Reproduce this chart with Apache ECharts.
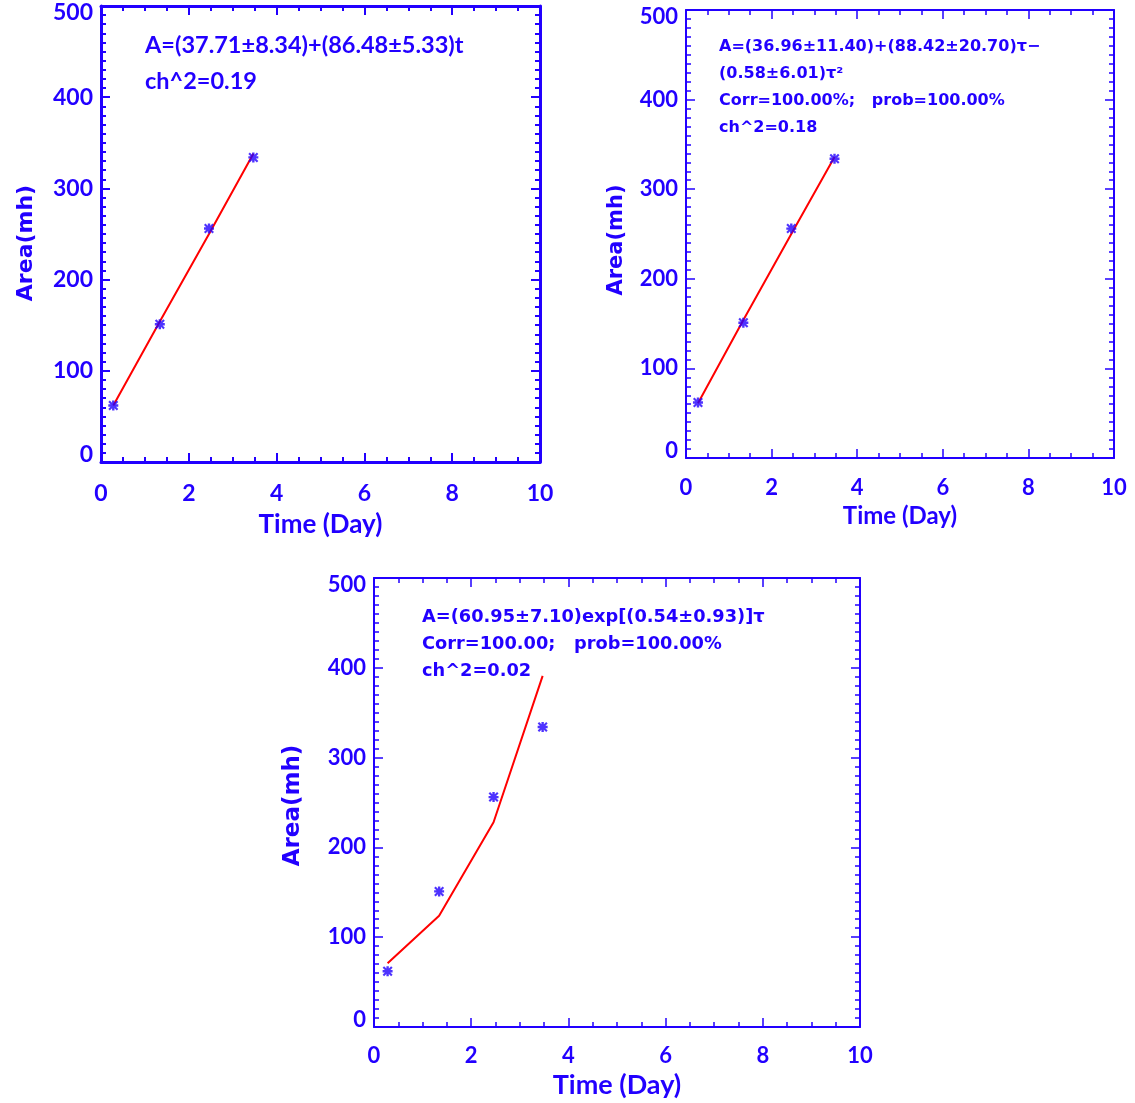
<!DOCTYPE html>
<html>
<head>
<meta charset="utf-8">
<script src="https://cdn.jsdelivr.net/npm/echarts@6/dist/echarts.min.js"></script>
<style>
html,body{margin:0;padding:0;background:#fff;}
#chart{width:1135px;height:1103px;}
</style>
</head>
<body>
<div id="chart"></div>
<script>
// ---- data ----
const timeDay = [0.28, 1.34, 2.46, 3.47];
const areaObs = [62, 151, 256, 334];
const fitLinear = [62, 154, 250, 338];
const fitQuad = [61, 154, 250, 336];
const fitExp = [71, 124, 228, 391];
const xRange = [0, 10];
const yRange = [0, 500];
const xTitle = 'Time (Day)';
const yTitle = 'Area(mh)';
const notes1 = ['A=(37.71±8.34)+(86.48±5.33)t', 'ch^2=0.19'];
const notes2 = ['A=(36.96±11.40)+(88.42±20.70)τ−', '(0.58±6.01)τ²', 'Corr=100.00%;   prob=100.00%', 'ch^2=0.18'];
const notes3 = ['A=(60.95±7.10)exp[(0.54±0.93)]τ', 'Corr=100.00;   prob=100.00%', 'ch^2=0.02'];

const BLUE = '#2200ff';
const RED = '#ff0000';
const FONT = 'Lato';
const FONT2 = 'DejaVu Sans';

const panels = [
  {grid:{left:101, top:6, width:439, height:456}, lw:3, tw:2, fs:23, margin:20,
   xfs:26, xGap:50, yfs:22, yGap:64, yPad:18,
   fit:fitLinear, notes:notes1, nx:145, ny:45, nsp:36, nfont:'bold 23.5px ' + FONT},
  {grid:{left:686, top:10, width:428, height:448}, lw:2, tw:1.5, fs:22, margin:19,
   xfs:24, xGap:46, yfs:21, yGap:59, yPad:12,
   fit:fitQuad, notes:notes2, nx:719, ny:47, nsp:27, nfont:'bold 16px ' + FONT2},
  {grid:{left:374, top:578, width:486, height:449}, lw:2, tw:1.5, fs:22, margin:18,
   xfs:27, xGap:45, yfs:23, yGap:69, yPad:6,
   fit:fitExp, notes:notes3, nx:422, ny:617, nsp:27, nfont:'bold 17.8px ' + FONT2}
];

const grids = [], xAxes = [], yAxes = [], series = [], graphics = [];
const star = 'path://M0,3.8L10,3.8L10,6.2L0,6.2ZM3.8,0L6.2,0L6.2,10L3.8,10ZM1.5,0L10,8.5L8.5,10L0,1.5ZM8.5,0L10,1.5L1.5,10L0,8.5Z';

panels.forEach((p, i) => {
  grids.push(Object.assign({containLabel:false}, p.grid));
  const lineStyle = {color:BLUE, width:p.lw};
  const tick = {show:true, inside:true, length:9, lineStyle:{color:BLUE, width:p.tw}};
  const labelBase = {color:BLUE, fontFamily:FONT, fontWeight:'bold', fontSize:p.fs};
  ['bottom','top'].forEach(pos => {
    xAxes.push({
      gridIndex:i, type:'value', position:pos, min:xRange[0], max:xRange[1], interval:2,
      axisLine:{show:true, onZero:false, lineStyle},
      axisTick:tick,
      minorTick:{show:true, splitNumber:4, length:5, lineStyle:{color:BLUE, width:p.tw}},
      splitLine:{show:false},
      axisLabel: pos === 'bottom' ? Object.assign({show:true, margin:p.margin}, labelBase) : {show:false},
      name: pos === 'bottom' ? xTitle : '',
      nameLocation:'middle', nameGap:p.xGap,
      nameTextStyle:{color:BLUE, fontFamily:FONT, fontWeight:'bold', fontSize:p.xfs}
    });
  });
  ['left','right'].forEach(pos => {
    yAxes.push({
      gridIndex:i, type:'value', position:pos, min:yRange[0], max:yRange[1], interval:100,
      axisLine:{show:true, onZero:false, lineStyle},
      axisTick:tick,
      minorTick:{show:true, splitNumber:10, length:5, lineStyle:{color:BLUE, width:p.tw}},
      splitLine:{show:false},
      axisLabel: pos === 'left' ? Object.assign({show:true, margin:8, lineHeight:14,
        verticalAlignMinLabel:'bottom', verticalAlignMaxLabel:'top'}, labelBase) : {show:false},
      name: pos === 'left' ? yTitle : '',
      nameLocation:'middle', nameGap:p.yGap, nameRotate:90,
      nameTextStyle:{color:BLUE, fontFamily:FONT2, fontWeight:'bold', fontSize:p.yfs, padding:[0, p.yPad, 0, 0]}
    });
  });
  series.push({
    type:'line', xAxisIndex:2*i, yAxisIndex:2*i, data:timeDay.map((t,k)=>[t, p.fit[k]]),
    showSymbol:false, symbol:'none', lineStyle:{color:RED, width:2}, silent:true, animation:false, z:2
  });
  series.push({
    type:'scatter', xAxisIndex:2*i, yAxisIndex:2*i, data:timeDay.map((t,k)=>[t, areaObs[k]]),
    symbol:star, symbolSize:10, itemStyle:{color:BLUE}, silent:true, animation:false, z:3
  });
  p.notes.forEach((txt, k) => {
    graphics.push({type:'text', x:p.nx, y:p.ny + k*p.nsp,
      style:{text:txt, fill:BLUE, font:p.nfont, verticalAlign:'middle', align:'left'}});
  });
});

const chart = echarts.init(document.getElementById('chart'), null, {renderer:'canvas'});
chart.setOption({
  animation:false,
  backgroundColor:'#ffffff',
  grid:grids, xAxis:xAxes, yAxis:yAxes, series:series, graphic:graphics
});
</script>
</body>
</html>
